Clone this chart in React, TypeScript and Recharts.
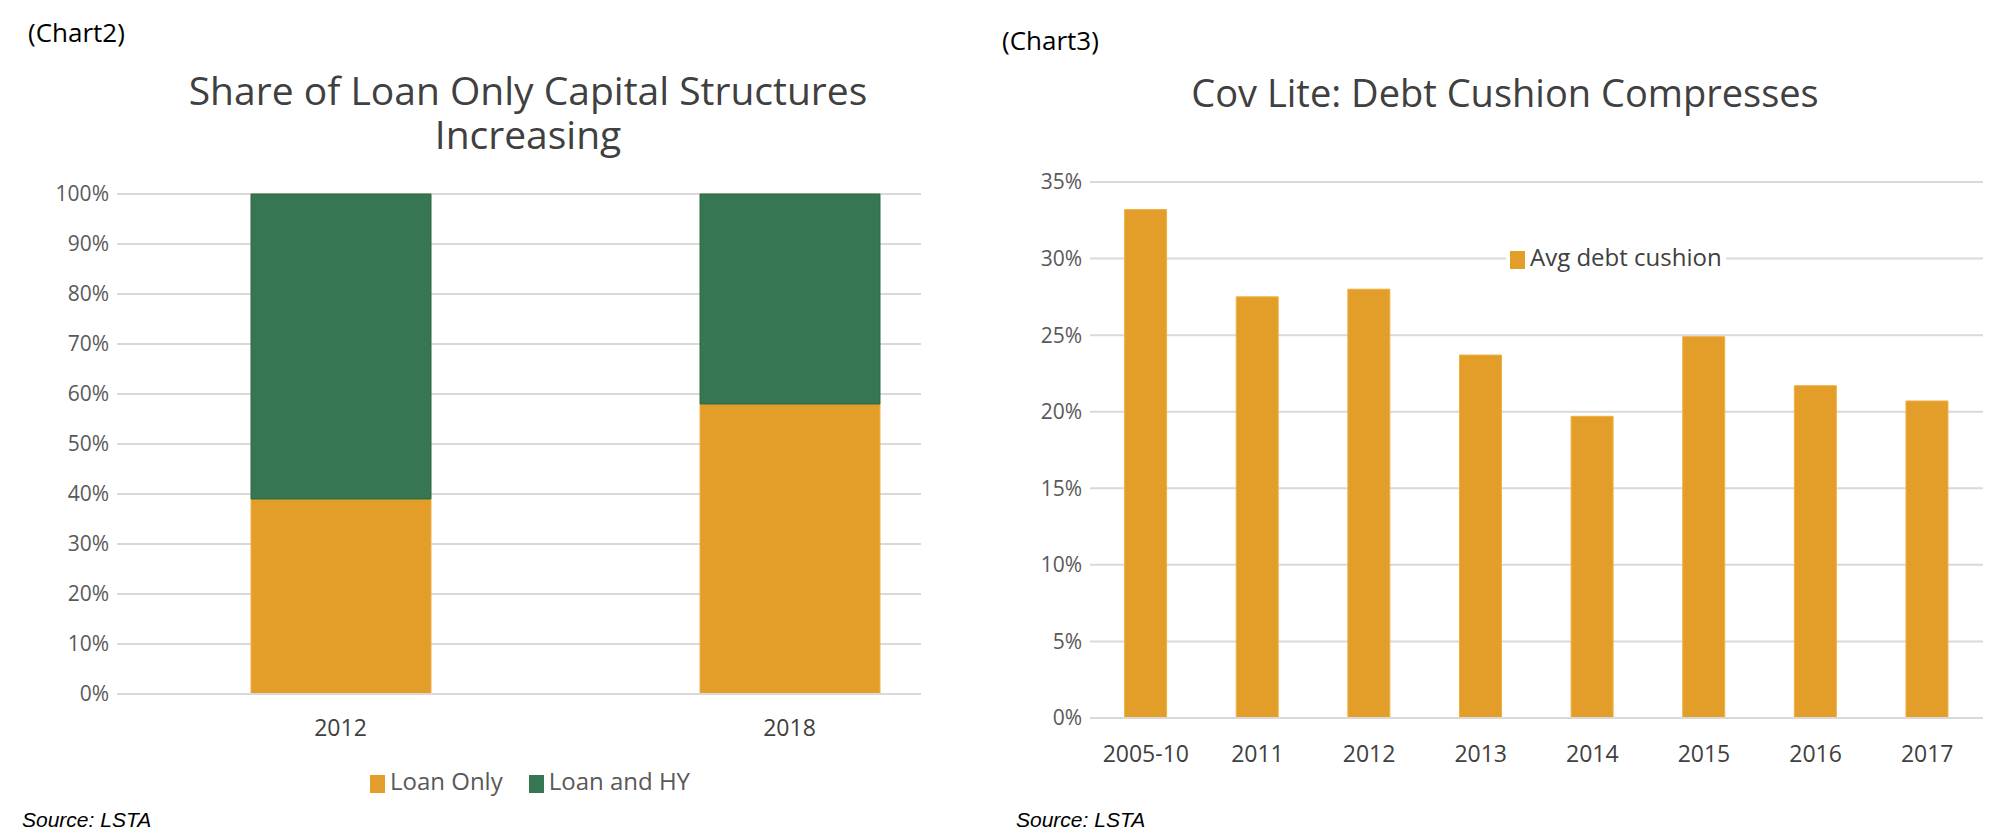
import React from "react";
import { BarChart, Bar, XAxis, YAxis, CartesianGrid } from "recharts";

const shareYears = ["2012", "2018"];
const loanOnly = [39, 58];
const loanAndHY = [61, 42];

const cushionYears = ["2005-10", "2011", "2012", "2013", "2014", "2015", "2016", "2017"];
const avgCushion = [33.2, 27.5, 28.0, 23.7, 19.7, 24.9, 21.7, 20.7];

const shareTicks = [0, 10, 20, 30, 40, 50, 60, 70, 80, 90, 100];
const cushionTicks = [0, 5, 10, 15, 20, 25, 30, 35];

const ORANGE = "#E39E2A";
const GREEN = "#377652";
const FONT = "'Open Sans', 'Noto Sans', sans-serif";
const tickStyle = { fill: "#595959", fontSize: 21, fontFamily: FONT };
const xTickStyle = { fill: "#404040", fontSize: 23, fontFamily: FONT };

const shareData = shareYears.map((y, i) => ({ year: y, loanOnly: loanOnly[i], loanHY: loanAndHY[i] }));
const cushionData = cushionYears.map((y, i) => ({ year: y, cushion: avgCushion[i] }));

const abs = (left: number, top: number): React.CSSProperties => ({ position: "absolute", left, top });

const Swatch = ({ color }: { color: string }) => (
  <span style={{ display: "inline-block", width: 15, height: 18, background: color, marginRight: 5, verticalAlign: "middle" }} />
);

export default function App() {
  return (
    <div style={{ position: "relative", width: 2000, height: 839, margin: -8, background: "#fff", fontFamily: FONT, overflow: "hidden" }}>
      <div style={{ ...abs(28, 14), fontSize: 26, color: "#000" }}>(Chart2)</div>
      <div style={{ ...abs(1002, 22), fontSize: 26, color: "#000" }}>(Chart3)</div>
      <div style={{ ...abs(78, 68), width: 900, textAlign: "center", fontSize: 39, color: "#404040", lineHeight: "44px" }}>
        Share of Loan Only Capital Structures<br />Increasing
      </div>
      <div style={{ ...abs(1055, 66), width: 900, textAlign: "center", fontSize: 38, color: "#404040" }}>
        Cov Lite: Debt Cushion Compresses
      </div>

      <div style={abs(0, 0)}>
        <BarChart width={960} height={839} data={shareData} margin={{ top: 194, left: 57, right: 39, bottom: 105 }} barSize={180}>
          <CartesianGrid vertical={false} stroke="#d9d9d9" strokeWidth={2} />
          <XAxis dataKey="year" height={40} tick={xTickStyle} tickLine={false} axisLine={{ stroke: "#d9d9d9", strokeWidth: 2 }} dy={18} padding={{ left: -1, right: -93 }} />
          <YAxis width={60} domain={[0, 100]} ticks={shareTicks} tick={tickStyle} tickFormatter={(v) => `${v}%`} tickLine={false} axisLine={false} interval={0} />
          <Bar dataKey="loanOnly" stackId="a" fill={ORANGE} stroke="#f0b040" isAnimationActive={false} />
          <Bar dataKey="loanHY" stackId="a" fill={GREEN} stroke="#2a6a40" isAnimationActive={false} />
        </BarChart>
      </div>
      <div style={{ ...abs(280, 764), width: 500, textAlign: "center", fontSize: 24, color: "#595959" }}>
        <Swatch color={ORANGE} />Loan Only<span style={{ marginLeft: 26 }} />
        <Swatch color={GREEN} />Loan and HY
      </div>

      <div style={abs(1000, 0)}>
        <BarChart width={1000} height={839} data={cushionData} margin={{ top: 182, left: 30, right: 17, bottom: 81 }} barCategoryGap="31%">
          <CartesianGrid vertical={false} stroke="#d9d9d9" strokeWidth={2} />
          <XAxis dataKey="year" height={40} tick={xTickStyle} tickLine={false} axisLine={{ stroke: "#d9d9d9", strokeWidth: 2 }} dy={20} />
          <YAxis width={60} domain={[0, 35]} ticks={cushionTicks} tick={tickStyle} tickFormatter={(v) => `${v}%`} tickLine={false} axisLine={false} interval={0} />
          <Bar dataKey="cushion" fill={ORANGE} stroke="#f0b040" isAnimationActive={false} />
        </BarChart>
      </div>
      <div style={{ ...abs(1506, 240), background: "#fff", padding: "0 4px", fontSize: 24, color: "#404040" }}>
        <Swatch color={ORANGE} />Avg debt cushion
      </div>

      <div style={{ ...abs(22, 808), fontSize: 21, fontStyle: "italic", fontFamily: "'Liberation Sans', Arial, sans-serif" }}>Source: LSTA</div>
      <div style={{ ...abs(1016, 808), fontSize: 21, fontStyle: "italic", fontFamily: "'Liberation Sans', Arial, sans-serif" }}>Source: LSTA</div>
    </div>
  );
}
